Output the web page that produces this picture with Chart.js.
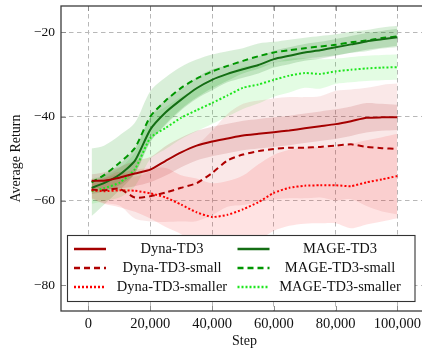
<!DOCTYPE html>
<html><head><meta charset="utf-8">
<script src="https://cdn.jsdelivr.net/npm/chart.js@4"></script>
<style>html,body{margin:0;padding:0;overflow:hidden;background:#fff;width:422px;height:348px}canvas{display:block}</style>
</head><body>
<canvas id="c" width="430" height="348" style="width:430px;height:348px"></canvas>
<script>
// ---- data ----
const steps = [1000,5000,10000,15000,20000,25000,30000,35000,40000,45000,50000,55000,60000,65000,70000,75000,80000,85000,90000,95000,100000];
const dynaTD3         = [-55.2,-55.2,-54.5,-53.5,-52.6,-50.5,-48.5,-46.9,-45.9,-45.2,-44.5,-44.1,-43.7,-43.3,-42.8,-42.3,-41.8,-41.1,-40.3,-40.2,-40.2];
const dynaTD3Small    = [-57.3,-57.5,-57.1,-59.2,-58.9,-58.0,-56.9,-55.8,-53.4,-50.4,-49.0,-48.2,-47.7,-47.4,-47.4,-47.2,-46.9,-46.6,-47.2,-47.5,-47.7];
const dynaTD3Smaller  = [-57.5,-57.7,-57.5,-57.6,-58.2,-59.2,-60.9,-62.7,-63.8,-63.3,-62.0,-60.3,-58.1,-56.9,-56.4,-56.3,-56.3,-56.5,-55.6,-54.9,-54.1];
const mageTD3         = [-56.9,-55.8,-53.8,-50.5,-43.1,-39.0,-36.0,-33.3,-31.3,-29.9,-28.8,-27.8,-26.4,-25.6,-24.8,-24.3,-23.6,-22.9,-22.2,-21.7,-21.2];
const mageTD3Small    = [-55.6,-53.9,-51.0,-47.5,-40.0,-36.2,-33.2,-31.0,-29.3,-28.0,-26.8,-25.7,-24.8,-24.3,-23.8,-23.4,-23.0,-22.4,-22.0,-21.4,-21.0];
const mageTD3Smaller  = [-57.7,-57.0,-55.7,-52.5,-45.1,-42.7,-40.3,-38.5,-36.8,-35.0,-33.2,-32.4,-31.3,-30.3,-29.7,-29.9,-29.3,-28.9,-28.6,-28.4,-28.3];
// half-widths of the shaded bands
const dynaTD3Spread        = [1.5,2,2.5,3,3,3.5,3.5,3.5,3.5,3.5,3.5,3.5,3.5,3.5,3.5,3.5,3.5,3.5,3.5,3.2,3];
const dynaTD3SmallSpread   = [2,3,4,5,6,7,8,9,10,11,12,12,12,12,12,12,13,13,14,15,15.5];
const dynaTD3SmallerSpread = [2,3,4,5,6,7,7,8,8,8,8,9,9,9,9,9,9,10,10,10,10];
const mageTD3Spread        = [1.5,2,2.5,3,3,3,2.5,2.5,2.5,2,2,2,2,2,2,2,2,2,2,2,2];
const mageTD3SmallSpread   = [8,7,6.5,6,6,5.5,5,4.5,4,3.5,3,3,2.5,2.5,2.5,2.5,2.5,2.5,2.5,2.5,2.5];
const mageTD3SmallerSpread = [3,3,3.5,4,5,5,5,5,5,5,5,4.5,4,4,3.5,3.5,3,3,3,3,3];
const xTicks = [0,20000,40000,60000,80000,100000];
const yTicks = [-80,-60,-40,-20];
const seriesNames = ['Dyna-TD3','Dyna-TD3-small','Dyna-TD3-smaller','MAGE-TD3','MAGE-TD3-small','MAGE-TD3-smaller'];

// ---- styling ----
const series = [
  {label: seriesNames[0], mean: dynaTD3,        spread: dynaTD3Spread,        color: 'rgb(165,0,0)',  dash: [],    band: 'rgba(165,0,0,0.13)'},
  {label: seriesNames[1], mean: dynaTD3Small,   spread: dynaTD3SmallSpread,   color: 'rgb(175,0,0)',  dash: [6,4], band: 'rgba(200,0,0,0.09)'},
  {label: seriesNames[2], mean: dynaTD3Smaller, spread: dynaTD3SmallerSpread, color: 'rgb(255,0,0)',  dash: [2,2], band: 'rgba(255,0,0,0.11)'},
  {label: seriesNames[3], mean: mageTD3,        spread: mageTD3Spread,        color: 'rgb(20,110,20)',dash: [],    band: 'rgba(0,110,0,0.16)'},
  {label: seriesNames[4], mean: mageTD3Small,   spread: mageTD3SmallSpread,   color: 'rgb(0,150,0)',  dash: [6,4], band: 'rgba(0,150,0,0.15)'},
  {label: seriesNames[5], mean: mageTD3Smaller, spread: mageTD3SmallerSpread, color: 'rgb(30,230,30)',dash: [2,2], band: 'rgba(0,230,0,0.11)'}
];
const pts = arr => arr.map((y,i) => ({x: steps[i], y}));

const datasets = [];
series.forEach(s => {
  datasets.push({label: s.label, data: pts(s.mean), borderColor: s.color, borderDash: s.dash,
    borderWidth: 2, pointRadius: 0, fill: false, tension: 0.2, order: 0, borderCapStyle: 'butt'});
});
series.forEach(s => {
  const up = datasets.length;
  datasets.push({label: s.label + ' upper', data: pts(s.mean.map((m,i)=>m + s.spread[i])),
    borderWidth: 0, pointRadius: 0, fill: false, tension: 0.3, order: 10, borderColor: 'transparent'});
  datasets.push({label: s.label + ' lower', data: pts(s.mean.map((m,i)=>m - s.spread[i])),
    borderWidth: 0, pointRadius: 0, fill: {target: up}, backgroundColor: s.band, tension: 0.3, order: 10, borderColor: 'transparent'});
});

const FONT = "'Liberation Serif', 'Times New Roman', serif";
const fmtY = v => (v < 0 ? '\u2212' + Math.abs(v) : String(v));
const fmtX = v => v.toLocaleString('en-US');

const framePlugin = {
  id: 'frameLegend',
  afterDraw(chart) {
    const {ctx, chartArea: a, scales} = chart;
    ctx.save();
    // tick marks
    ctx.strokeStyle = '#8c8c8c'; ctx.lineWidth = 1; ctx.setLineDash([]);
    xTicks.forEach(v => {
      const x = Math.round(scales.x.getPixelForValue(v)) + 0.5;
      ctx.beginPath(); ctx.moveTo(x, a.bottom); ctx.lineTo(x, a.bottom - 5);
      ctx.moveTo(x, a.top); ctx.lineTo(x, a.top + 5); ctx.stroke();
    });
    yTicks.forEach(v => {
      const y = Math.round(scales.y.getPixelForValue(v)) + 0.5;
      ctx.beginPath(); ctx.moveTo(a.left, y); ctx.lineTo(a.left + 5, y); ctx.stroke();
    });
    // frame
    ctx.strokeStyle = '#3c3c3c'; ctx.lineWidth = 1.3;
    ctx.strokeRect(a.left, a.top, a.right - a.left, a.bottom - a.top);
    // legend
    const lx = a.left + 6.5, lw = 347.5, lh = 66, ly = a.bottom - 9.5 - lh;
    ctx.fillStyle = '#fff';
    ctx.fillRect(lx, ly, lw, lh);
    ctx.strokeStyle = '#333'; ctx.lineWidth = 1.1;
    ctx.strokeRect(lx, ly, lw, lh);
    ctx.font = '14.5px ' + FONT;
    ctx.textAlign = 'center'; ctx.textBaseline = 'middle';
    for (let i = 0; i < 6; i++) {
      const ds = chart.data.datasets[i];
      const col = Math.floor(i / 3), row = i % 3;
      const y = ly + 13.5 + row * 19;
      const sx = lx + 6.5 + col * 163.5;
      ctx.strokeStyle = ds.borderColor; ctx.lineWidth = 2.5;
      ctx.setLineDash(ds.borderDash);
      ctx.beginPath(); ctx.moveTo(sx, y); ctx.lineTo(sx + 32, y); ctx.stroke();
      ctx.setLineDash([]);
      ctx.fillStyle = '#111';
      ctx.fillText(ds.label, lx + 104.5 + col * 168, y + 0.5);
    }
    ctx.restore();
  }
};

new Chart(document.getElementById('c'), {
  type: 'line',
  data: {datasets},
  options: {
    responsive: false, animation: false, devicePixelRatio: 1,
    layout: {padding: {top: 6, right: 2, left: 0, bottom: 0}},
    plugins: {legend: {display: false}, tooltip: {enabled: false}, filler: {propagate: false}},
    scales: {
      x: {
        type: 'linear', min: -8900, max: 109900,
        afterBuildTicks: s => { s.ticks = xTicks.map(v => ({value: v})); },
        afterFit: s => { s.height = 37; s.paddingLeft = 0; s.paddingRight = 0; },
        ticks: {callback: fmtX, color: '#111', font: {family: FONT, size: 14.5}, padding: 4, maxRotation: 0, autoSkip: false},
        grid: {color: '#b8b8b8', lineWidth: 1, drawTicks: false},
        border: {display: false, dash: [4.5, 3.5]},
        title: {display: true, text: 'Step', color: '#111', font: {family: FONT, size: 14, lineHeight: 1.0}, padding: {top: 0, bottom: 0}}
      },
      y: {
        type: 'linear', min: -86.1, max: -13.8,
        afterBuildTicks: s => { s.ticks = yTicks.map(v => ({value: v})); },
        afterFit: s => { s.width = 61; s.paddingTop = 0; s.paddingBottom = 0; },
        ticks: {callback: fmtY, color: '#111', font: {family: FONT, size: 13.5}, padding: 6, autoSkip: false},
        grid: {color: '#b8b8b8', lineWidth: 1, drawTicks: false},
        border: {display: false, dash: [4.5, 3.5]},
        title: {display: true, text: 'Average Return', color: '#111', font: {family: FONT, size: 14}, padding: {top: 8, bottom: 0}}
      }
    }
  },
  plugins: [framePlugin]
});
</script></body></html>
